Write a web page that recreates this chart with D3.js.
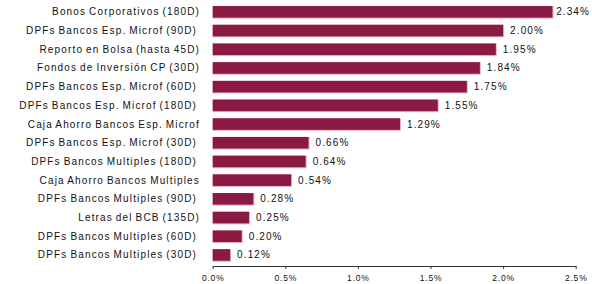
<!DOCTYPE html>
<html><head><meta charset="utf-8">
<script src="https://cdn.jsdelivr.net/npm/d3@7"></script>
<style>
body{margin:0;background:#fff;}
svg{display:block;font-family:"Liberation Sans",Arial,sans-serif;}
text{white-space:pre;}
</style></head>
<body><svg id="c" width="592" height="284"></svg>
<script>
const categories = [
  "Bonos Corporativos (180D)",
  "DPFs Bancos Esp. Microf (90D) ",
  "Reporto en Bolsa (hasta 45D)",
  "Fondos de Inversión CP (30D)",
  "DPFs Bancos Esp. Microf (60D) ",
  "DPFs Bancos Esp. Microf (180D) ",
  "Caja Ahorro Bancos Esp. Microf",
  "DPFs Bancos Esp. Microf (30D) ",
  "DPFs Bancos Multiples (180D) ",
  "Caja Ahorro Bancos Multiples",
  "DPFs Bancos Multiples (90D) ",
  "Letras del BCB (135D)",
  "DPFs Bancos Multiples (60D) ",
  "DPFs Bancos Multiples (30D) "
];
const values = [2.34, 2.00, 1.95, 1.84, 1.75, 1.55, 1.29, 0.66, 0.64, 0.54, 0.28, 0.25, 0.20, 0.12];
const tickValues = [0, 0.5, 1.0, 1.5, 2.0, 2.5];

const svg = d3.select("#c");
const W = 592;
const x = d3.scaleLinear().domain([0, 2.5]).range([212.7, 575.7]);
const y = d3.scaleBand().domain(categories).range([2.5, 264.3]).paddingInner(0.38).paddingOuter(0.19);
const barColor = "#8a1a44";

const g = svg.append("g");
g.selectAll("rect.sh").data(values).enter().append("rect")
  .attr("class","sh")
  .attr("x", x(0))
  .attr("y", (d,i)=>y(categories[i]))
  .attr("width", d=>x(d)-x(0)+1)
  .attr("height", y.bandwidth()+1)
  .attr("fill","#e3b3c4");
g.selectAll("rect.bar").data(values).enter().append("rect")
  .attr("class","bar")
  .attr("x", x(0))
  .attr("y", (d,i)=>y(categories[i]))
  .attr("width", d=>x(d)-x(0))
  .attr("height", y.bandwidth())
  .attr("fill", barColor);

g.selectAll("text.val").data(values).enter().append("text")
  .attr("class","val")
  .attr("y", (d,i)=>y(categories[i])+y.bandwidth()/2)
  .attr("dy","0.35em")
  .attr("font-size","10px")
  .attr("letter-spacing","1.1px")
  .attr("fill","#111")
  .text(d=>d.toFixed(2)+"%")
  .attr("x", function(d){
    const w = this.getComputedTextLength();
    return Math.min(x(d)+7, W - 2 - w);
  });

g.selectAll("text.cat").data(categories).enter().append("text")
  .attr("class","cat")
  .attr("x", 200)
  .attr("y", d=>y(d)+y.bandwidth()/2)
  .attr("dy","0.35em")
  .attr("text-anchor","end")
  .attr("font-size","10px")
  .attr("letter-spacing","1.15px")
  .attr("word-spacing","-1px")
  .attr("fill","#111")
  .text(d=>d);

const ax = svg.append("g").attr("transform","translate(0,266)")
  .call(d3.axisBottom(x).tickValues(tickValues).tickSize(3).tickSizeOuter(0).tickPadding(6)
    .tickFormat(d=>d.toFixed(1)+"%"));
ax.select(".domain").attr("stroke","#333");
ax.selectAll(".tick line").attr("stroke","#333");
ax.selectAll(".tick text").attr("font-size","8.5px").attr("letter-spacing","0.8px")
  .attr("fill","#111").attr("font-family","'Liberation Sans',Arial,sans-serif");
</script></body></html>
